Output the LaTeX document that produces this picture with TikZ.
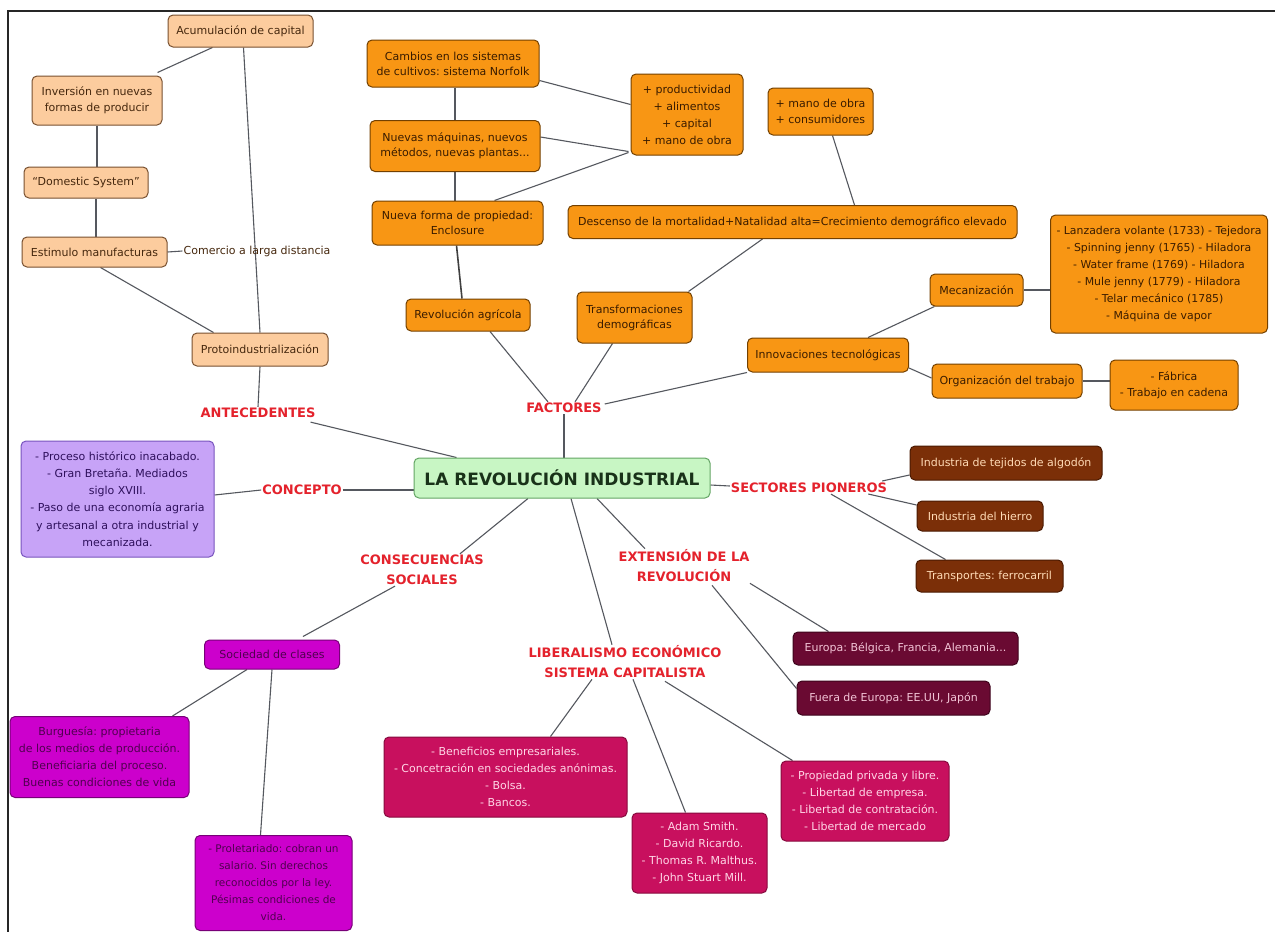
\documentclass[tikz,border=0pt]{standalone}
\usepackage{fontspec}
\setmainfont{DejaVu Sans}
\usetikzlibrary{calc,backgrounds}
\frenchspacing
\definecolor{pchF}{RGB}{252,204,158}
\definecolor{pchD}{RGB}{120,80,48}
\definecolor{pchT}{RGB}{70,40,14}
\definecolor{orgF}{RGB}{248,150,20}
\definecolor{orgD}{RGB}{115,64,0}
\definecolor{orgT}{RGB}{58,28,0}
\definecolor{grnF}{RGB}{200,246,196}
\definecolor{grnD}{RGB}{100,165,100}
\definecolor{grnT}{RGB}{25,50,25}
\definecolor{redL}{RGB}{228,34,44}
\definecolor{purF}{RGB}{199,163,247}
\definecolor{purD}{RGB}{120,84,190}
\definecolor{purT}{RGB}{46,16,92}
\definecolor{magF}{RGB}{204,0,204}
\definecolor{magD}{RGB}{120,0,120}
\definecolor{magT}{RGB}{80,0,80}
\definecolor{crmF}{RGB}{200,16,94}
\definecolor{crmD}{RGB}{135,10,62}
\definecolor{crmT}{RGB}{255,214,230}
\definecolor{marF}{RGB}{106,10,50}
\definecolor{marD}{RGB}{62,4,28}
\definecolor{marT}{RGB}{242,196,214}
\definecolor{brnF}{RGB}{123,47,8}
\definecolor{brnD}{RGB}{74,26,2}
\definecolor{brnT}{RGB}{255,218,181}
\definecolor{lineC}{RGB}{85,88,95}
\begin{document}
\begin{tikzpicture}[x=1pt,y=-1pt,
  box/.style={draw, rounded corners=5pt, line width=1pt, align=center, inner sep=3pt,
    font=\fontsize{11}{16}\selectfont},
  pch/.style={box, fill=pchF, draw=pchD, text=pchT},
  org/.style={box, fill=orgF, draw=orgD, text=orgT},
  grn/.style={box, fill=grnF, draw=grnD, text=grnT, font=\bfseries\fontsize{17}{20}\selectfont},
  pur/.style={box, fill=purF, draw=purD, text=purT, font=\fontsize{11}{17.3}\selectfont},
  mag/.style={box, fill=magF, draw=magD, text=magT, font=\fontsize{11}{17}\selectfont},
  crm/.style={box, fill=crmF, draw=crmD, text=crmT, font=\fontsize{11}{17}\selectfont},
  mar/.style={box, fill=marF, draw=marD, text=marT},
  brn/.style={box, fill=brnF, draw=brnD, text=brnT},
  lbl/.style={text=redL, font=\bfseries\fontsize{13}{20}\selectfont, align=center, inner sep=1pt},
  ln/.style={draw=lineC, line width=1.1pt}]
\useasboundingbox (0,0) rectangle (1275,932);

% ---- nodes ----
\node[pch, minimum width=145, minimum height=32] (acum) at (240.5,31) {Acumulación de capital};
\node[pch, minimum width=130, minimum height=49] (inv) at (97,100.5) {Inversión en nuevas\\formas de producir};
\node[pch, minimum width=124, minimum height=31] (dom) at (86,182.5) {``Domestic System''};
\node[pch, minimum width=145, minimum height=30] (estim) at (94.5,252) {Estimulo manufacturas};
\node[inner sep=1pt, text=pchT, font=\fontsize{11}{14}\selectfont] (comer) at (257,251) {Comercio a larga distancia};
\node[pch, minimum width=136, minimum height=33] (proto) at (260,349.5) {Protoindustrialización};

\node[org, minimum width=172, minimum height=47, font=\fontsize{11}{15}\selectfont] (camb) at (453,63.5) {Cambios en los sistemas\\de cultivos: sistema Norfolk};
\node[org, minimum width=170, minimum height=51, font=\fontsize{11}{15}\selectfont] (mach) at (455,146) {Nuevas máquinas, nuevos\\métodos, nuevas plantas...};
\node[org, minimum width=171, minimum height=44, font=\fontsize{11}{15}\selectfont] (nueva) at (457.5,223) {Nueva forma de propiedad:\\Enclosure};
\node[org, minimum width=112, minimum height=81, font=\fontsize{11}{17}\selectfont] (prod) at (687,114.5) {+ productividad\\+ alimentos\\+ capital\\+ mano de obra};
\node[org, minimum width=105, minimum height=47, align=left, font=\fontsize{11}{16}\selectfont] (mano) at (820.5,111.5) {+ mano de obra\\+ consumidores};
\node[org, minimum width=449, minimum height=33] (desc) at (792.5,222) {Descenso de la mortalidad+Natalidad alta=Crecimiento demográfico elevado};
\node[org, minimum width=124, minimum height=32] (ragr) at (468,315) {Revolución agrícola};
\node[org, minimum width=115, minimum height=51, font=\fontsize{11}{15}\selectfont] (transf) at (634.5,317.5) {Transformaciones\\demográficas};
\node[org, minimum width=161, minimum height=34] (innov) at (828,355) {Innovaciones tecnológicas};
\node[org, minimum width=93, minimum height=32] (mec) at (976.5,290) {Mecanización};
\node[org, minimum height=118, inner xsep=6pt, anchor=west, font=\fontsize{10.9}{17}\selectfont] (list) at (1050,274) {- Lanzadera volante (1733) - Tejedora\\- Spinning jenny (1765) - Hiladora\\- Water frame (1769) - Hiladora\\- Mule jenny (1779) - Hiladora\\- Telar mecánico (1785)\\- Máquina de vapor};
\node[org, minimum width=150, minimum height=34] (orgt) at (1007,381) {Organización del trabajo};
\node[org, minimum width=128, minimum height=50] (fab) at (1174,385) {- Fábrica\\- Trabajo en cadena};

\node[grn, minimum width=296, minimum height=40] (rev) at (562,478) {LA REVOLUCIÓN INDUSTRIAL};

\node[lbl] (ante) at (258,413) {ANTECEDENTES};
\node[lbl] (fact) at (564,408) {FACTORES};
\node[lbl] (conc) at (302,490) {CONCEPTO};
\node[lbl] (sect) at (809,488) {SECTORES PIONEROS};
\node[lbl] (cons) at (422,570) {CONSECUENCIAS\\SOCIALES};
\node[lbl] (ext) at (684,566) {EXTENSIÓN DE LA\\REVOLUCIÓN};
\node[lbl] (lib) at (625,662) {LIBERALISMO ECONÓMICO\\SISTEMA CAPITALISTA};

\node[pur, minimum width=193, minimum height=116] (cbox) at (117.5,499) {- Proceso histórico inacabado.\\- Gran Bretaña. Mediados\\siglo XVIII.\\- Paso de una economía agraria\\y artesanal a otra industrial y\\mecanizada.};

\node[brn, minimum width=192, minimum height=34] (tej) at (1006,463) {Industria de tejidos de algodón};
\node[brn, minimum width=126, minimum height=30] (hie) at (980,516) {Industria del hierro};
\node[brn, minimum width=147, minimum height=32] (tra) at (989.5,576) {Transportes: ferrocarril};

\node[mag, minimum width=135, minimum height=29] (soc) at (272,654.5) {Sociedad de clases};
\node[mag, minimum width=179, minimum height=81] (burg) at (99.5,757) {Burguesía: propietaria\\de los medios de producción.\\Beneficiaria del proceso.\\Buenas condiciones de vida};
\node[mag, minimum width=157, minimum height=95, font=\fontsize{10.5}{17}\selectfont] (prol) at (273.5,883) {- Proletariado: cobran un\\salario. Sin derechos\\reconocidos por la ley.\\Pésimas condiciones de\\vida.};

\node[crm, minimum width=243, minimum height=80] (ben) at (505.5,777) {- Beneficios empresariales.\\- Concetración en sociedades anónimas.\\- Bolsa.\\- Bancos.};
\node[crm, minimum width=135, minimum height=80] (adam) at (699.5,853) {- Adam Smith.\\- David Ricardo.\\- Thomas R. Malthus.\\- John Stuart Mill.};
\node[crm, minimum width=168, minimum height=80] (prop) at (865,801) {- Propiedad privada y libre.\\- Libertad de empresa.\\- Libertad de contratación.\\- Libertad de mercado};

\node[mar, minimum width=225, minimum height=33] (eur) at (905.5,648.5) {Europa: Bélgica, Francia, Alemania...};
\node[mar, minimum width=193, minimum height=34] (fue) at (893.5,698) {Fuera de Europa: EE.UU, Japón};

% ---- background, frame and connectors ----
\begin{scope}[on background layer]
\fill[white] (0,0) rectangle (1275,932);
\draw[line width=2pt, black!85] (8,932) -- (8,10.5) -- (1275,10.5);

\draw[ln] ($(acum.south)+(-28,0)$) -- ($(inv.north east)+(-5,-3)$);
\draw[ln] ($(acum.south)+(3,0)$) -- (proto.north);
\draw[ln] (inv.south) -- (inv.south |- dom.north);
\draw[ln] ($(dom.south)+(10,0)$) -- ($(estim.north)+(1.5,0)$);
\draw[ln] ($(estim.south)+(6,0)$) -- ($(proto.north west)+(22,0)$);
\draw[ln] (estim.east) -- (comer.west);
\draw[ln] (proto.south) -- (ante.north);
\draw[ln] ($(ante.south east)+(-6,3)$) -- ($(rev.north west)+(43,0)$);

\draw[ln] (mach.north) -- (mach.north |- camb.south);
\draw[ln] ($(camb.east)+(0,17)$) -- ($(prod.west)+(0,-10)$);
\draw[ln] ($(mach.east)+(0,-9)$) -- ($(prod.west)+(-2,37)$);
\draw[ln] ($(nueva.north)+(37,0)$) -- ($(prod.west)+(-2,38)$);
\draw[ln] (mach.south) -- (mach.south |- nueva.north);
\draw[ln, line width=1.6pt, draw=black!75] ($(nueva.south)+(-1,0)$) -- ($(ragr.north)+(-6,0)$);
\draw[ln] ($(mano.south)+(12,0)$) -- ($(desc.north)+(62,0)$);
\draw[ln] ($(desc.south)+(-30,0)$) -- ($(transf.north east)+(-4,0)$);
\draw[ln] ($(ragr.south)+(22,0)$) -- ($(fact.north)+(-16,0)$);
\draw[ln] ($(transf.south)+(-22,0)$) -- ($(fact.north)+(11,0)$);
\draw[ln] (innov.south west) -- ($(fact.east)+(2,-4)$);
\draw[ln] (fact.south) -- (fact.south |- rev.north);
\draw[ln] ($(innov.north)+(40,0)$) -- ($(mec.south west)+(5,0)$);
\draw[ln] (mec.east) -- (mec.east -| list.west);
\draw[ln] ($(innov.east)+(0,13)$) -- ($(orgt.west)+(0,-3)$);
\draw[ln] (orgt.east) -- (orgt.east -| fab.west);

\draw[ln] ($(cbox.east)+(0,-4)$) -- (conc.west);
\draw[ln] (conc.east) -- (conc.east -| rev.west);
\draw[ln] ($(rev.east)+(0,7)$) -- ($(sect.west)+(0,-2)$);
\draw[ln] ($(sect.east)+(-6,-7)$) -- ($(tej.west)+(0,12)$);
\draw[ln] ($(sect.east)+(-20,6)$) -- ($(hie.west)+(0,-11)$);
\draw[ln] ($(sect.south)+(22,0)$) -- ($(tra.north)+(-44,0)$);

\draw[ln] ($(rev.south)+(-34,0)$) -- ($(cons.north east)+(-25,0)$);
\draw[ln] ($(rev.south)+(9,0)$) -- ($(lib.north)+(-13,0)$);
\draw[ln] ($(rev.south)+(35,0)$) -- ($(ext.north)+(-39,0)$);
\draw[ln] ($(cons.south)+(-27,0)$) -- ($(soc.north east)+(-37,-3)$);
\draw[ln] ($(soc.south)+(-25,0)$) -- ($(burg.north east)+(-17,0)$);
\draw[ln] (soc.south) -- ($(prol.north)+(-13,0)$);
\draw[ln] ($(lib.south)+(-33,0)$) -- ($(ben.north)+(45,0)$);
\draw[ln] ($(lib.south)+(8,0)$) -- ($(adam.north)+(-14,0)$);
\draw[ln] ($(lib.south)+(40,2)$) -- ($(prop.north west)+(12,0)$);
\draw[ln] ($(ext.south)+(66,0)$) -- ($(eur.north west)+(36,0)$);
\draw[ln] ($(ext.south)+(28,2)$) -- ($(fue.north west)+(0,8)$);
\end{scope}
\end{tikzpicture}
\end{document}
